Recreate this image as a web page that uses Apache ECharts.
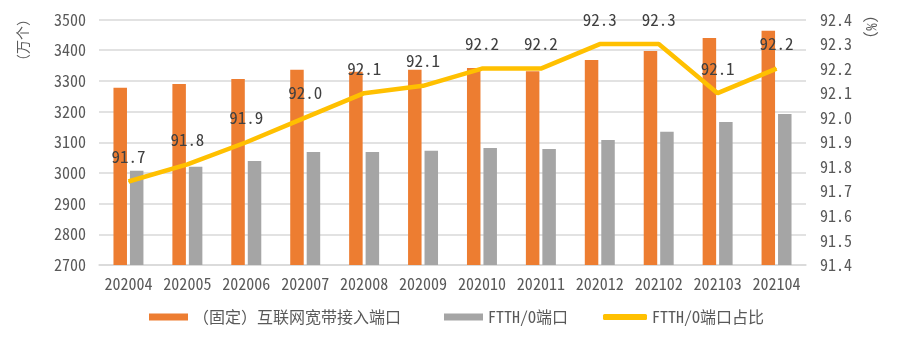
<!DOCTYPE html>
<html>
<head>
<meta charset="utf-8">
<script src="https://cdn.jsdelivr.net/npm/echarts@6/dist/echarts.min.js"></script>
<style>
  html, body { margin: 0; padding: 0; background: #fff; }
  #chart { width: 898px; height: 341px; }
</style>
</head>
<body>
<div id="chart"></div>
<script>
// Monthly broadband port statistics
const months = ['202004', '202005', '202006', '202007', '202008', '202009',
                '202010', '202011', '202012', '202102', '202103', '202104'];
// (fixed) internet broadband access ports, 10k units
const accessPorts = [3278, 3290, 3306, 3336, 3330, 3336, 3342, 3331, 3368, 3397, 3440, 3463];
// FTTH/O ports, 10k units
const ftthPorts = [3007, 3020, 3039, 3068, 3068, 3072, 3081, 3078, 3107, 3134, 3166, 3192];
// FTTH/O share of all ports, %
const ftthShare = [91.74, 91.81, 91.90, 92.00, 92.10, 92.13, 92.20, 92.20, 92.30, 92.30, 92.10, 92.20];

const leftTicks = { min: 2700, max: 3500, interval: 100 };
const rightTicks = { min: 91.4, max: 92.4, interval: 0.1 };

const seriesNames = ['（固定）互联网宽带接入端口', 'FTTH/O端口', 'FTTH/O端口占比'];

const FONT = "'Noto Sans Mono CJK SC', 'Liberation Mono', 'Noto Sans CJK SC', monospace";
const TEXT = '#595959';

const chart = echarts.init(document.getElementById('chart'));
chart.setOption({
  animation: false,
  backgroundColor: '#fff',
  grid: { left: 99, right: 92, top: 19.5, bottom: 76 },
  textStyle: { fontFamily: FONT },
  legend: [
    {
      left: 144, top: 304, itemWidth: 39, itemHeight: 7,
      data: [{ name: seriesNames[0], icon: 'rect' }],
      textStyle: { color: TEXT, fontSize: 16, fontFamily: FONT }
    },
    {
      left: 439, top: 304, itemWidth: 39, itemHeight: 7,
      data: [{ name: seriesNames[1], icon: 'rect' }],
      textStyle: { color: TEXT, fontSize: 16, fontFamily: FONT }
    },
    {
      left: 598, top: 304, itemWidth: 44, itemHeight: 6,
      data: [{ name: seriesNames[2], icon: 'roundRect' }],
      textStyle: { color: TEXT, fontSize: 16, fontFamily: FONT }
    }
  ],
  graphic: [
    {
      type: 'text', x: 22.5, y: 40, rotation: Math.PI / 2,
      style: { text: '（万个）', fill: TEXT, font: "14px 'Noto Sans CJK SC'", align: 'center', verticalAlign: 'middle' }
    },
    {
      type: 'text', x: 872, y: 27, rotation: -Math.PI / 2,
      style: { text: '(%)', fill: TEXT, font: "15px " + FONT, align: 'center', verticalAlign: 'middle' }
    }
  ],
  xAxis: {
    type: 'category',
    data: months,
    axisTick: { show: false },
    axisLine: { show: true, lineStyle: { color: '#d9d9d9', width: 1.5 } },
    axisLabel: { color: TEXT, fontSize: 16, margin: 11, fontFamily: FONT, interval: 0 }
  },
  yAxis: [
    {
      type: 'value',
      min: leftTicks.min, max: leftTicks.max, interval: leftTicks.interval,
      axisLine: { show: false }, axisTick: { show: false },
      splitLine: { lineStyle: { color: '#d9d9d9', width: 1.5 } },
      axisLabel: { color: TEXT, fontSize: 16, margin: 13, fontFamily: FONT, formatter: v => String(v) }
    },
    {
      type: 'value',
      min: rightTicks.min, max: rightTicks.max, interval: rightTicks.interval,
      axisLine: { show: false }, axisTick: { show: false },
      splitLine: { show: false },
      axisLabel: {
        color: TEXT, fontSize: 16, margin: 14, fontFamily: FONT,
        formatter: v => v.toFixed(1)
      }
    }
  ],
  series: [
    {
      name: seriesNames[0], type: 'bar', data: accessPorts,
      barWidth: 13.5, barGap: '22%',
      itemStyle: { color: '#ED7D31' }
    },
    {
      name: seriesNames[1], type: 'bar', data: ftthPorts,
      barWidth: 13.5,
      itemStyle: { color: '#A5A5A5' }
    },
    {
      name: seriesNames[2], type: 'line', yAxisIndex: 1, data: ftthShare,
      symbol: 'circle', symbolSize: 1, showSymbol: true,
      itemStyle: { color: '#FFC000' },
      lineStyle: { color: '#FFC000', width: 4.5 },
      label: {
        show: true, position: 'top', distance: 16,
        color: '#404040', fontSize: 17, fontFamily: FONT,
        formatter: p => p.value.toFixed(1)
      },
      z: 5
    }
  ]
});
</script>
</body>
</html>
